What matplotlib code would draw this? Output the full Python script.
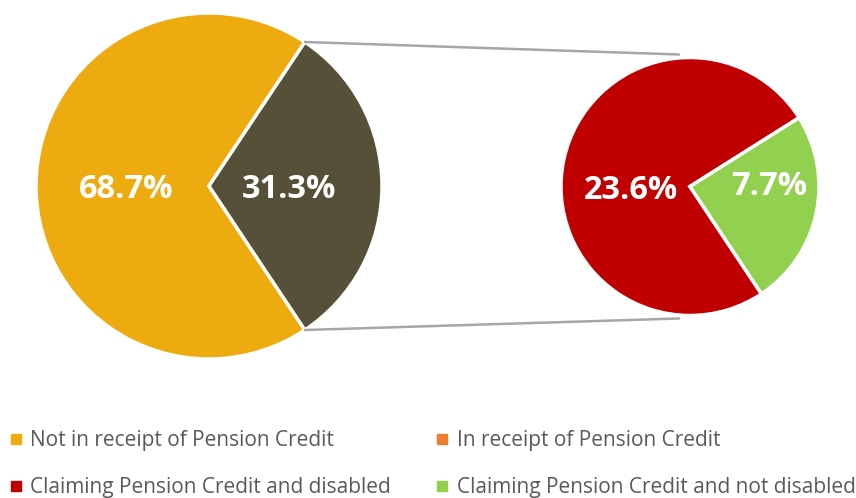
import numpy as np
import matplotlib.pyplot as plt
from matplotlib.lines import Line2D
from matplotlib.patches import ConnectionPatch

plt.rcParams['font.family'] = ['Open Sans', 'DejaVu Sans']

# main pie: share in / not in receipt of Pension Credit
main_labels = ['Not in receipt of Pension Credit', 'In receipt of Pension Credit']
main_values = [68.7, 31.3]
main_colors = ['#EEAB10', '#575039']

# breakdown of the 31.3% slice
sub_labels = ['Claiming Pension Credit and disabled', 'Claiming Pension Credit and not disabled']
sub_values = [23.6, 7.7]
sub_colors = ['#C00000', '#92D050']

legend_labels = ['Not in receipt of Pension Credit', 'In receipt of Pension Credit',
                 'Claiming Pension Credit and disabled', 'Claiming Pension Credit and not disabled']
legend_colors = ['#EEAB10', '#ED7D31', '#C00000', '#92D050']

W, H = 856, 498
fig = plt.figure(figsize=(W / 100, H / 100), dpi=100)
ax = fig.add_axes([0, 0, 1, 1])
ax.set_aspect('equal')

c1, r1 = (209, H - 186), 173
c2, r2 = (690, H - 186.5), 129

# dark slice sits symmetric around 3 o'clock
start1 = 180 * main_values[1] / 100
w1, _ = ax.pie(main_values, colors=main_colors, startangle=start1, center=c1, radius=r1,
               wedgeprops=dict(edgecolor='white', linewidth=2.5), frame=True)

# green slice ends at the same lower angle as the dark slice
low = -start1
start2 = low + 360 * sub_values[1] / sum(sub_values)
w2, _ = ax.pie(sub_values, colors=sub_colors, startangle=start2, center=c2, radius=r2,
               wedgeprops=dict(edgecolor='white', linewidth=2.5), frame=True)
ax.set_xlim(0, W)
ax.set_ylim(0, H)
ax.axis('off')

# value labels (offsets relative to pie centre, in radii)
main_pos = [(-0.48, -0.02), (0.46, -0.02)]
sub_pos = [(-0.46, -0.03), (0.61, 0.0)]
for v, (dx, dy) in zip(main_values, main_pos):
    ax.text(c1[0] + dx * r1, c1[1] + dy * r1, f'{v:.1f}%', color='white', fontsize=23.5,
            fontweight='bold', ha='center', va='center')
for v, (dx, dy) in zip(sub_values, sub_pos):
    ax.text(c2[0] + dx * r2, c2[1] + dy * r2, f'{v:.1f}%', color='white', fontsize=23.5,
            fontweight='bold', ha='center', va='center')

# connector lines from the dark slice edges to the small pie
dark = w1[1]
for ang in (dark.theta1, dark.theta2):
    t = np.deg2rad(ang)
    p1 = (c1[0] + r1 * np.cos(t), c1[1] + r1 * np.sin(t))
    sgn = np.sign(np.sin(t))
    p2 = (c2[0] - 11, c2[1] + sgn * (r2 + 3))
    ax.add_patch(ConnectionPatch(p1, p2, 'data', 'data', color='#A6A6A6', linewidth=1.8))

# legend filled row by row
order = [0, 2, 1, 3]
handles = [Line2D([], [], marker='s', linestyle='none', markersize=6.5, color=legend_colors[i])
           for i in order]
leg = ax.legend(handles, [legend_labels[i] for i in order], ncol=2, loc='lower left',
                bbox_to_anchor=(0.011, 0.0), frameon=False, fontsize=15, labelcolor='#595959',
                handlelength=0.6, handletextpad=0.41, columnspacing=2.16, labelspacing=1.25,
                borderaxespad=0, borderpad=0)

fig.savefig('out.png', dpi=100)
